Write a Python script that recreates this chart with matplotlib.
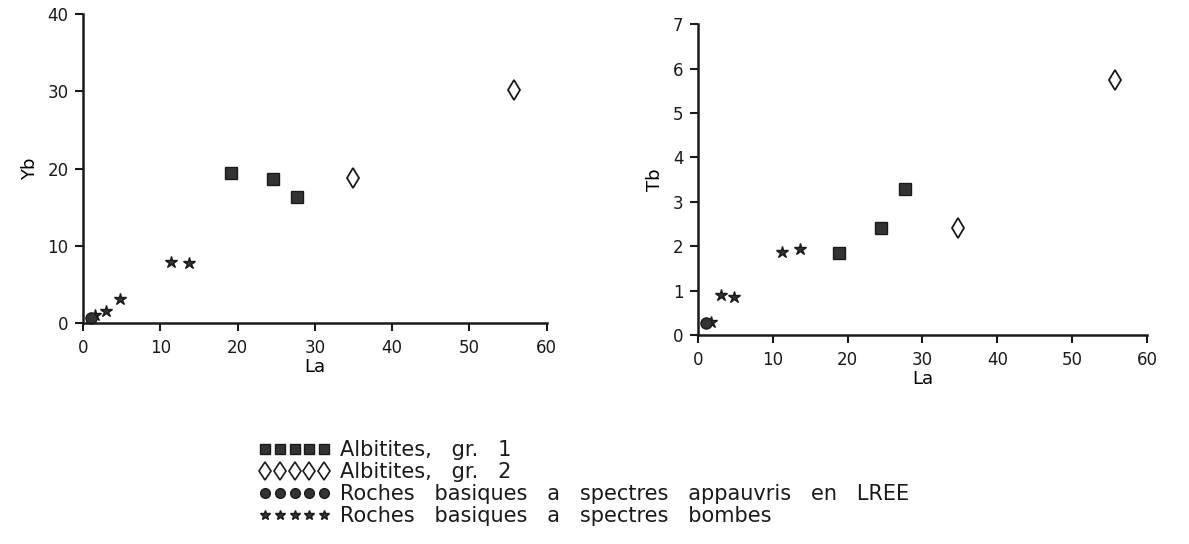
import matplotlib
matplotlib.use("Agg")
import matplotlib.pyplot as plt
from matplotlib.lines import Line2D

# La, Yb, Tb contents by rock group
alb1_la = [19.2, 24.6, 27.7]
alb1_yb = [19.4, 18.7, 16.3]
alb1_la_tb = [18.8, 24.4, 27.7]
alb1_tb = [1.84, 2.41, 3.29]

alb2_la = [35.0, 55.8]
alb2_yb = [18.8, 30.2]
alb2_la_tb = [34.8, 55.7]
alb2_tb = [2.42, 5.74]

lree_la = [1.1]
lree_yb = [0.65]
lree_la_tb = [1.1]
lree_tb = [0.28]

bomb_la = [1.5, 3.0, 4.75, 11.35, 13.7]
bomb_yb = [1.05, 1.6, 3.1, 7.9, 7.8]
bomb_la_tb = [1.7, 3.1, 4.8, 11.3, 13.6]
bomb_tb = [0.3, 0.9, 0.86, 1.87, 1.94]

labels = [
    "Albitites,   gr.   1",
    "Albitites,   gr.   2",
    "Roches   basiques   a   spectres   appauvris   en   LREE",
    "Roches   basiques   a   spectres   bombes",
]

x_ticks = [0, 10, 20, 30, 40, 50, 60]
yb_ticks = [0, 10, 20, 30, 40]
tb_ticks = [0, 1, 2, 3, 4, 5, 6, 7]

ink = "#1a1a1a"
fill = "#333333"

plt.rcParams["font.family"] = ["DejaVu Sans"]
plt.rcParams["text.color"] = ink

fig = plt.figure(figsize=(11.89, 5.44), dpi=100)
ax1 = fig.add_axes([0.0698, 0.406, 0.390, 0.568])
ax2 = fig.add_axes([0.587, 0.384, 0.3776, 0.5717])

sq = dict(marker="s", linestyle="none", markersize=8, color=fill, markeredgecolor=ink)
di = dict(marker="d", linestyle="none", markersize=10.5, markerfacecolor="white",
          markeredgecolor=ink, markeredgewidth=1.3)
ci = dict(marker="o", linestyle="none", markersize=8, color=fill, markeredgecolor=ink)
st = dict(marker="*", linestyle="none", markersize=9, color=fill, markeredgecolor=ink)


def style(ax, yticks, ylabel):
    ax.set_xlim(0, 60)
    ax.set_ylim(yticks[0], yticks[-1])
    ax.set_xticks(x_ticks)
    ax.set_yticks(yticks)
    for s in ("top", "right"):
        ax.spines[s].set_visible(False)
    for s in ("left", "bottom"):
        ax.spines[s].set_linewidth(1.8)
        ax.spines[s].set_color(ink)
    ax.tick_params(direction="out", length=5.5, width=1.5, colors=ink,
                   labelsize=12)
    ax.tick_params(axis="x", pad=6)
    ax.tick_params(axis="y", pad=5)
    ax.set_xlabel("La", fontsize=13, labelpad=1)
    ax.set_ylabel(ylabel, fontsize=13, labelpad=6)


style(ax1, yb_ticks, "Yb")
style(ax2, tb_ticks, "Tb")

ax1.plot(bomb_la, bomb_yb, clip_on=False, **st)
ax1.plot(lree_la, lree_yb, clip_on=False, **ci)
ax1.plot(alb1_la, alb1_yb, clip_on=False, **sq)
ax1.plot(alb2_la, alb2_yb, clip_on=False, **di)

ax2.plot(bomb_la_tb, bomb_tb, clip_on=False, **st)
ax2.plot(lree_la_tb, lree_tb, clip_on=False, **ci)
ax2.plot(alb1_la_tb, alb1_tb, clip_on=False, **sq)
ax2.plot(alb2_la_tb, alb2_tb, clip_on=False, **di)

handles = [
    Line2D([], [], marker="s", linestyle="none", markersize=7, color=fill, markeredgecolor=ink),
    Line2D([], [], marker="d", linestyle="none", markersize=9.5, markerfacecolor="white",
           markeredgecolor=ink, markeredgewidth=1.2),
    Line2D([], [], marker="o", linestyle="none", markersize=7, color=fill, markeredgecolor=ink),
    Line2D([], [], marker="*", linestyle="none", markersize=7.5, color=fill, markeredgecolor=ink),
]
fig.legend(handles, labels, loc="upper left", bbox_to_anchor=(258.8 / 1189, 1 - 440 / 544),
           numpoints=5, handlelength=3.43, handletextpad=0.47, labelspacing=0.1,
           frameon=False, fontsize=15, borderaxespad=0, borderpad=0)

fig.savefig("out.png", dpi=100)
